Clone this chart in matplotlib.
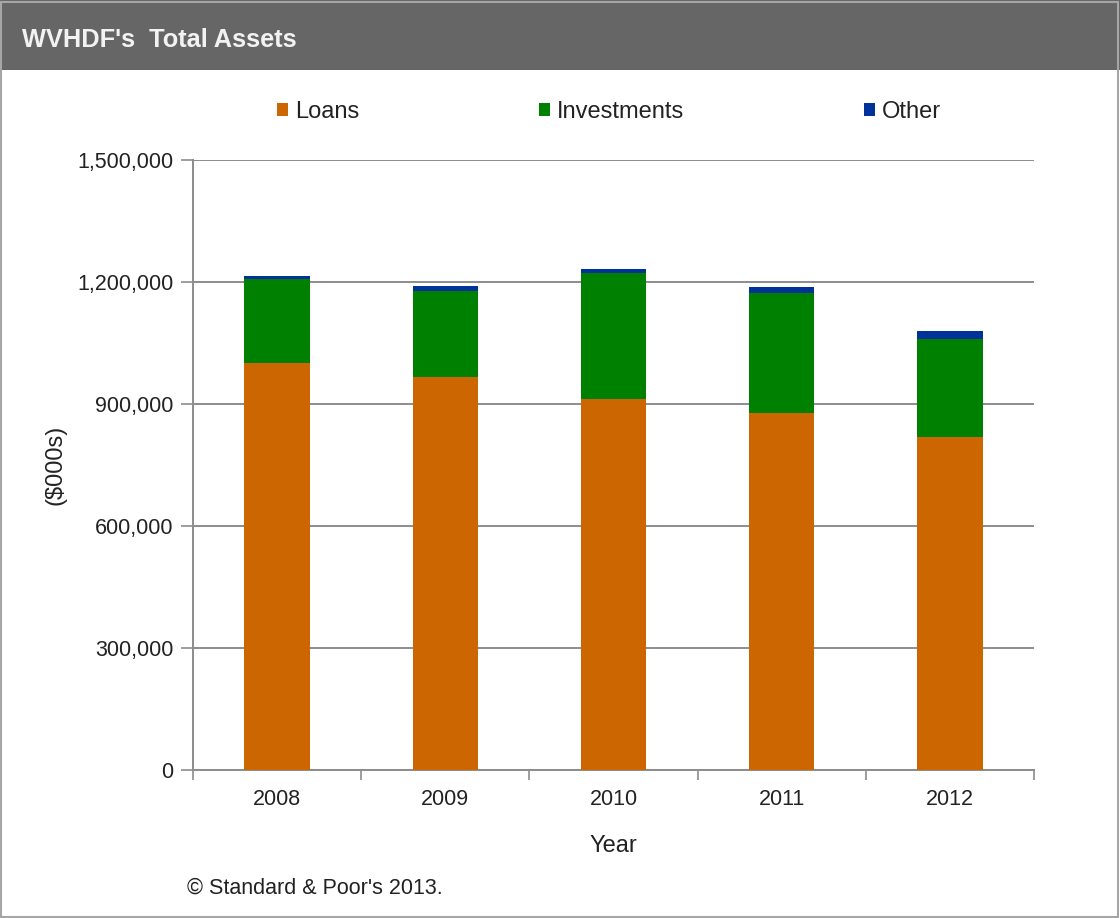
import matplotlib
matplotlib.use("Agg")
import matplotlib.pyplot as plt
from matplotlib.patches import Rectangle, Patch
import numpy as np

years = ["2008", "2009", "2010", "2011", "2012"]
loans = [1000000, 966000, 912000, 877000, 818000]
investments = [208000, 213000, 310000, 296000, 242000]
other = [6000, 10000, 10000, 15000, 20000]
series_names = ["Loans", "Investments", "Other"]
colors = ["#CC6600", "#008000", "#003399"]
yticks = [0, 300000, 600000, 900000, 1200000, 1500000]

plt.rcParams['font.family'] = ['Liberation Sans', 'DejaVu Sans']

W, H = 1120, 918
fig = plt.figure(figsize=(W / 100, H / 100), dpi=100)
fig.patch.set_facecolor("white")

# title bar
fig.patches.append(Rectangle((0, 1 - 70 / H), 1, 70 / H, transform=fig.transFigure,
                             facecolor="#666666", edgecolor="none", zorder=0))
fig.patches.append(Rectangle((1 / W, 1 / H), 1 - 3 / W, 1 - 3 / H, transform=fig.transFigure,
                             facecolor="none", edgecolor="#A6A6A6", linewidth=1.5, zorder=5))
fig.text(22 / W, 1 - 47 / H, "WVHDF's  Total Assets", color="#F2F2F2", fontsize=18.3,
         fontweight="bold", ha="left", va="baseline")

ax = fig.add_axes([193 / W, 1 - 770 / H, (1034 - 193) / W, (770 - 160) / H])
x = np.arange(len(years))
bw = 0.39
loans_a = np.array(loans)
inv_a = np.array(investments)
oth_a = np.array(other)
ax.bar(x, loans_a, bw, color=colors[0], zorder=3)
ax.bar(x, inv_a, bw, bottom=loans_a, color=colors[1], zorder=3)
ax.bar(x, oth_a, bw, bottom=loans_a + inv_a, color=colors[2], zorder=3)

ax.set_xlim(-0.5, len(years) - 0.5)
ax.set_ylim(0, 1500000)
ax.set_yticks(yticks)
ax.set_yticklabels([f"{v:,}" for v in yticks], fontsize=15.5, color="#222222")
ax.yaxis.grid(True, color="#8C8C8C", linewidth=1.4, zorder=0)
ax.set_axisbelow(True)

ax.set_xticks(np.arange(-0.5, len(years), 1.0))
ax.set_xticklabels([])
ax.set_xticks(x, minor=True)
ax.set_xticklabels(years, minor=True, fontsize=15.5, color="#222222")
ax.tick_params(axis="x", which="minor", length=0, pad=14)
ax.tick_params(axis="x", which="major", length=7, color="#8C8C8C", width=1.2)
ax.tick_params(axis="y", length=9, color="#8C8C8C", width=1.2, pad=5)

for s in ["top", "right"]:
    ax.spines[s].set_visible(False)
for s in ["left", "bottom"]:
    ax.spines[s].set_color("#8C8C8C")
    ax.spines[s].set_linewidth(1.4)

ax.set_xlabel("Year", fontsize=17, labelpad=18, color="#222222")
fig.text(55 / W, 1 - 465 / H, "($000s)", rotation=90, fontsize=17, ha="center", va="center",
         color="#222222")

handles = [Patch(facecolor=c, edgecolor="none") for c in colors]
fig.legend(handles, series_names, loc="center", bbox_to_anchor=(609 / W, 1 - 112 / H),
           ncol=3, frameon=False, fontsize=17, handlelength=0.47, handleheight=0.47,
           handletextpad=0.3, columnspacing=7.6, labelcolor="#222222")

fig.text(187 / W, 1 - 888 / H, "© Standard & Poor's 2013.", fontsize=15.5, ha="left",
         va="center", color="#222222")

fig.savefig("out.png", dpi=100)
